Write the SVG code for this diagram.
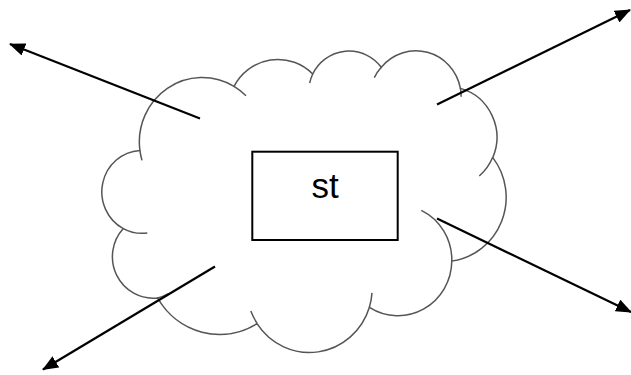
<svg xmlns="http://www.w3.org/2000/svg" width="631" height="375" viewBox="0 0 631 375">
  <style>
    .cloud { fill: #ffffff; stroke: #555555; stroke-width: 1.5; }
    .hook { fill: none; stroke: #555555; stroke-width: 1.5; }
    .box { fill: #ffffff; stroke: #000000; stroke-width: 2; }
    .label { font-family: "Liberation Sans", Arial, sans-serif; font-size: 35px; fill: #000000; text-anchor: middle; }
    .conn { stroke: #000000; stroke-width: 2.2; fill: none; marker-end: url(#arrow); }
  </style>
  <defs>
    <marker id="arrow" viewBox="0 0 16 13" refX="15" refY="6.5" markerWidth="16" markerHeight="13" markerUnits="userSpaceOnUse" orient="auto">
      <path d="M0,0 L16,6.5 L0,13 Z" fill="#000000"/>
    </marker>
  </defs>
  <rect width="631" height="375" fill="#ffffff"/>
  <g id="cloud">
    <path class="cloud" d="M139.9,150.4 A62.87,64.24 0 0 1 234.0,86.4 A49.65,50.80 0 0 1 312.7,74.0 A40.64,41.56 0 0 1 381.3,67.3 A45.22,46.10 0 0 1 460.4,88.4 A49.65,50.84 0 0 1 492.8,157.6 A63.08,64.45 0 0 1 451.8,261.1 A53.86,54.99 0 0 1 369.4,307.3 A62.86,64.41 0 0 1 257.0,323.7 A71.87,73.70 0 0 1 157.6,297.9 A40.59,41.37 0 0 1 123.3,228.6 A40.45,41.56 0 0 1 139.9,150.4 Z"/>
    <path class="hook" d="M147.3,233.0 A40.45,41.56 0 0 1 123.3,228.6 M168.1,293.9 A40.59,41.37 0 0 1 157.6,297.9 M257.0,323.2 A62.86,64.41 0 0 1 250.8,311.1 M372.0,292.9 A62.86,64.41 0 0 1 369.4,307.3 M421.3,210.4 A53.86,54.99 0 0 1 451.8,261.1 M492.7,157.3 A49.65,50.84 0 0 1 479.3,176.0 M460.4,87.9 A45.22,46.10 0 0 1 461.1,96.8 M374.3,77.6 A45.22,46.10 0 0 1 381.3,67.3 M309.7,83.0 A40.64,41.56 0 0 1 312.7,74.0 M234.0,86.3 A62.87,64.24 0 0 1 246.0,95.7 M142.0,160.4 A62.87,64.24 0 0 1 139.9,150.4"/>
  </g>
  <g id="box">
    <rect class="box" x="252.3" y="151.7" width="145.4" height="88.3"/>
    <text class="label" x="325" y="198">st</text>
  </g>
  <g id="connectors">
    <line class="conn" x1="200" y1="118.5" x2="10" y2="44"/>
    <line class="conn" x1="437" y1="104.5" x2="630" y2="10"/>
    <line class="conn" x1="437" y1="218.5" x2="631" y2="312"/>
    <line class="conn" x1="215" y1="266.5" x2="43" y2="369.5"/>
  </g>
</svg>
